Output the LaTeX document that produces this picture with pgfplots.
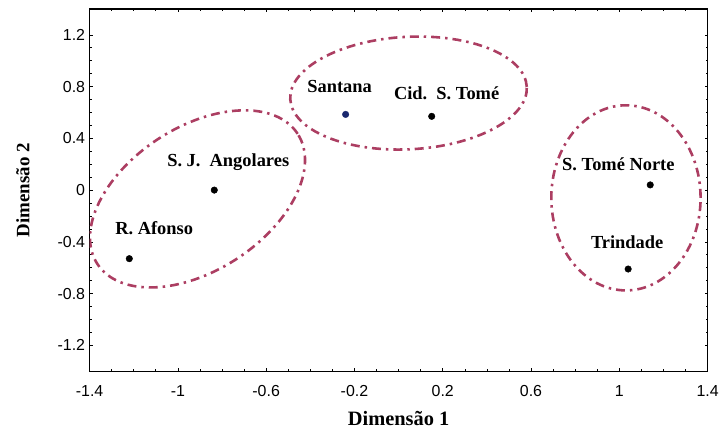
\documentclass[border=0pt]{standalone}
\usepackage{fontspec}
\setmainfont{Liberation Serif}
\newfontfamily\arialf{Liberation Sans}
\usepackage{pgfplots}
\pgfplotsset{compat=1.18}
\definecolor{ellc}{RGB}{172,62,98}
\definecolor{santc}{RGB}{25,40,110}
\begin{document}
\begin{tikzpicture}
\begin{axis}[name=ax, scale only axis, width=621pt, height=364pt,
  xmin=-1.4, xmax=1.4, ymin=-1.4, ymax=1.4,
  xtick={-1.4,-1,-0.6,-0.2,0.2,0.6,1,1.4},
  xticklabels={-1.4,-1,-0.6,-0.2,0.2,0.6,1,1.4},
  ytick={-1.2,-0.8,-0.4,0,0.4,0.8,1.2},
  yticklabels={-1.2,-0.8,-0.4,0,0.4,0.8,1.2},
  tick label style={font=\arialf\fontsize{16}{18}\selectfont},
  xticklabel style={yshift=-11pt},
  yticklabel style={xshift=-1pt},
  minor x tick num=3, minor y tick num=3,
  tick align=inside, major tick length=3pt, minor tick length=2pt,
  tick style={black, line width=0.6pt},
  axis line style={line width=1.1pt},
  xlabel={Dimensão 1}, ylabel={Dimensão 2},
  xlabel style={font=\bfseries\fontsize{20.5}{24}\selectfont, at={(axis description cs:0.5,-0.151)}, anchor=base},
  ylabel style={font=\bfseries\fontsize{19}{24}\selectfont, at={(axis description cs:-0.108,0.5)}, anchor=center},
]
\addplot[only marks, mark=*, mark size=3.3pt, black] coordinates {
  (-1.22,-0.53) (-0.835,0.0) (0.15,0.57) (1.14,0.04) (1.04,-0.61)
};
\addplot[only marks, mark=*, mark size=3.3pt, santc] coordinates {
  (-0.24,0.585)
};
\tikzset{lbl/.style={font=\bfseries\fontsize{18.5}{20}\selectfont, anchor=center}}
\node[lbl] at ([shift={(25pt,31pt)}]axis cs:-1.22,-0.53) {R. Afonso};
\node[lbl] at ([shift={(14pt,28pt)}]axis cs:-0.835,0.0) {S. J.\ \ Angolares};
\node[lbl] at ([shift={(-6pt,28pt)}]axis cs:-0.24,0.585) {Santana};
\node[lbl] at ([shift={(15pt,23pt)}]axis cs:0.15,0.57) {Cid.\ \ S. Tomé};
\node[lbl] at ([shift={(-32pt,21pt)}]axis cs:1.14,0.04) {S. Tomé Norte};
\node[lbl] at ([shift={(-1pt,27pt)}]axis cs:1.04,-0.61) {Trindade};
\tikzset{ell/.style={ellc, line width=2.6pt, dash pattern=on 9pt off 5pt on 2.5pt off 5pt}}
\draw[ell, rotate around={33:(axis cs:-0.911,-0.068)}] (axis cs:-0.911,-0.068) ellipse [x radius=120pt, y radius=72pt];
\draw[ell, rotate around={3:(axis cs:0.045,0.75)}] (axis cs:0.045,0.75) ellipse [x radius=119pt, y radius=56.5pt];
\draw[ell] (axis cs:1.03,-0.06) ellipse [x radius=75pt, y radius=93pt];
\end{axis}
\path ([shift={(-90pt,-60pt)}]ax.south west) rectangle ([shift={(11pt,9pt)}]ax.north east);
\end{tikzpicture}
\end{document}
